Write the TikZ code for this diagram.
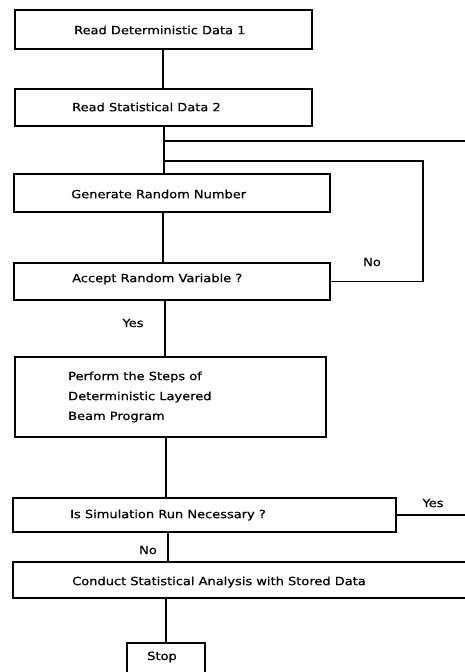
\documentclass[tikz,border=0pt]{standalone}
\usepackage{fontspec}
\setmainfont[FakeBold=0.6,FakeStretch=1.15]{DejaVu Sans}
\begin{document}
\begin{tikzpicture}[x=1pt,y=-1pt,
  box/.style={draw, line width=1.3pt, inner sep=0pt, rectangle},
  lbl/.style={font=\fontsize{11.3}{20}\selectfont, inner sep=0pt},
  conn/.style={line width=1.3pt}]
\useasboundingbox (0,0) rectangle (465,672);
\clip (0,0) rectangle (465,672);
% boxes
\node[box, minimum width=297pt, minimum height=39pt] (b1) at (163.5,29.5) {};
\node[box, minimum width=297pt, minimum height=37pt] (b2) at (163.5,107.5) {};
\node[box, minimum width=316pt, minimum height=38pt] (gen) at (172,193) {};
\node[box, minimum width=316pt, minimum height=37pt] (acc) at (172,281.5) {};
\node[box, minimum width=311pt, minimum height=80pt] (perf) at (170.5,397) {};
\node[box, minimum width=383pt, minimum height=34pt] (sim) at (204.5,515) {};
\node[box, minimum width=467pt, minimum height=36pt] (cond) at (246.5,580) {};
\node[box, minimum width=78pt, minimum height=57pt] (stop) at (166,671.5) {};
% texts
\node[lbl, anchor=west] (t1) at (74,30) {Read Deterministic Data 1};
\node[lbl, anchor=west] (t2) at (72,107) {Read Statistical Data 2};
\node[lbl, anchor=west] (t3) at (71,194) {Generate Random Number};
\node[lbl, anchor=west] (t4) at (72,279) {Accept Random Variable ?};
\node[lbl, anchor=west] (t5a) at (68,377) {Perform the Steps of};
\node[lbl, anchor=west] (t5b) at (68,397) {Deterministic Layered};
\node[lbl, anchor=west] (t5c) at (68,417) {Beam Program};
\node[lbl, anchor=west] (t6) at (70,515) {Is Simulation Run Necessary ?};
\node[lbl, anchor=west] (t7) at (72,582) {Conduct Statistical Analysis with Stored Data};
\node[lbl] (t8) at (162,657) {Stop};
\node[lbl] (no1) at (372,262) {No};
\node[lbl] (yes1) at (133,323) {Yes};
\node[lbl] (yes2) at (433,503) {Yes};
\node[lbl] (no2) at (148,550) {No};
% spine coordinates
\coordinate (sa) at (163,0);
\coordinate (sb) at (164,0);
\coordinate (sc) at (165,0);
\coordinate (sd) at (166,0);
\coordinate (se) at (168,0);
\coordinate (j1) at (164,141);
\coordinate (e1) at (470,141);
\coordinate (j2) at (164,161);
\coordinate (r2) at (423,161);
\coordinate (e2) at (470,515);
% connectors
\draw[conn] (b1.south -| sa) -- (b2.north -| sa);
\draw[conn] (b2.south -| sb) -- (gen.north -| sb);
\draw[conn] (j1) -- (e1);
\draw[conn] (j2) -- (r2) |- (acc.east);
\draw[conn] (gen.south -| sa) -- (acc.north -| sa);
\draw[conn] (acc.south -| sc) -- (perf.north -| sc);
\draw[conn] (perf.south -| sd) -- (sim.north -| sd);
\draw[conn] (sim.east) -- (e2);
\draw[conn] (sim.south -| se) -- (cond.north -| se);
\draw[conn] (cond.south -| sd) -- (stop.north);
\end{tikzpicture}
\end{document}
